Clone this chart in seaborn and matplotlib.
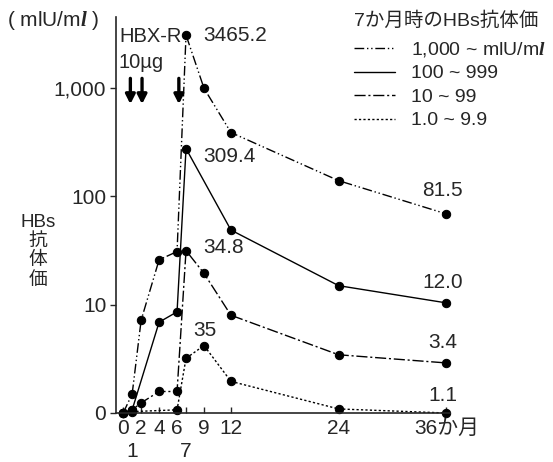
import numpy as np
import pandas as pd
import seaborn as sns
import matplotlib
matplotlib.use('Agg')
import matplotlib.pyplot as plt
from matplotlib.lines import Line2D

# data (months, HBs antibody titre)
months_a = [0, 1, 2, 4, 6, 7, 9, 12, 24, 36]
titre_a = [1.0, 1.5, 7.2, 26, 31, 3100, 1000, 390, 140, 69]
months_b = [0, 1, 4, 6, 7, 12, 24, 36]
titre_b = [1.0, 1.07, 6.9, 8.6, 277, 49, 15, 10.4]
months_c = [0, 1, 2, 4, 6, 7, 9, 12, 24, 36]
titre_c = [1.0, 1.07, 1.24, 1.58, 1.58, 31.6, 19.5, 8.0, 3.45, 2.9]
months_d = [0, 1, 6, 7, 9, 12, 24, 36]
titre_d = [1.0, 1.03, 1.07, 3.2, 4.2, 1.96, 1.09, 1.0]

legend_labels = ['1,000 ~ mlU/m$\\mathbfit{l}$', '100 ~ 999', '10 ~ 99', '1.0 ~ 9.9']
peak_labels = ['3465.2', '309.4', '34.8', '35']
end_labels = ['81.5', '12.0', '3.4', '1.1']
arrow_months = [0.8, 2.1, 6.2]
ylabel_lines = ['HBs', '抗', '体', '価']

xticks = [0, 2, 4, 6, 9, 12, 24, 36]
xticklabels = ['0', '2', '4', '6', '9', '12', '24', '36か月']
xticks_low = [1, 7]
xticklabels_low = ['1', '7']
yticks = [1, 10, 100, 1000]
yticklabels = ['0', '10', '100', '1,000']

sns.set_style('ticks')
plt.rcParams['font.family'] = ['Liberation Sans', 'Noto Sans CJK JP', 'DejaVu Sans']
plt.rcParams['mathtext.fontset'] = 'custom'
plt.rcParams['mathtext.bfit'] = 'Liberation Serif:italic:bold'
plt.rcParams['mathtext.rm'] = 'Liberation Sans'

fig = plt.figure(figsize=(5.53, 4.62), dpi=100)
ax = fig.add_axes([116 / 553, 49 / 462, 334 / 553, 396 / 462])

styles = [(0, (7, 2, 1, 2, 1, 2)), '-', (0, (8, 2, 1.5, 2)), (0, (1.6, 1.6))]
series = [(months_a, titre_a), (months_b, titre_b), (months_c, titre_c), (months_d, titre_d)]
for (mx, ty), ls in zip(series, styles):
    df = pd.DataFrame({'month': mx, 'titre': ty})
    sns.lineplot(data=df, x='month', y='titre', ax=ax, color='black', linewidth=1.0,
                 linestyle=ls, marker='o', markersize=6, markeredgecolor='black',
                 clip_on=False, errorbar=None)

ax.set_yscale('log')
ax.set_ylim(1, 4550)
ax.set_xlim(-0.8, 36.4)
ax.minorticks_off()
ax.set_yticks(yticks)
ax.set_yticklabels(yticklabels, fontsize=15)
ax.set_xticks(xticks)
ax.set_xticklabels(xticklabels, fontsize=15)
ax.set_xticks(xticks_low, minor=True)
ax.set_xticklabels(xticklabels_low, minor=True, fontsize=15)
ax.tick_params(axis='x', which='both', direction='in', length=4, width=1)
ax.tick_params(axis='x', which='major', pad=4)
ax.tick_params(axis='x', which='minor', pad=21)
ax.tick_params(axis='y', direction='out', length=4, width=1, pad=3)
ax.set_xlabel('')
ax.set_ylabel('')
for s in ['top', 'right']:
    ax.spines[s].set_visible(False)
for s in ['left', 'bottom']:
    ax.spines[s].set_linewidth(1.2)

# value annotations (peaks)
peak_y = [titre_a[5], titre_b[4], titre_c[5], titre_d[4]]
peak_x = [8.9, 8.9, 8.9, 7.8]
peak_dy = [0, -6, 2, 11]
for yv, xv, dy, lab in zip(peak_y, peak_x, peak_dy, peak_labels):
    ax.annotate(lab, (xv, yv), xytext=(0, dy), textcoords='offset points',
                fontsize=15, va='center', ha='left')
# value annotations (36 months)
end_y = [titre_a[-1], titre_b[-1], titre_c[-1], titre_d[-1]]
end_dy = [17, 14.5, 15, 12.5]
for yv, dy, lab in zip(end_y, end_dy, end_labels):
    ax.annotate(lab, (35.6, yv), xytext=(0, dy), textcoords='offset points',
                fontsize=15, va='center', ha='center')

# vaccination arrows
for xa in arrow_months:
    ax.annotate('', xy=(xa, 0.78), xytext=(xa, 0.845), xycoords=('data', 'axes fraction'),
                textcoords=('data', 'axes fraction'),
                arrowprops=dict(arrowstyle='-|>,head_length=0.55,head_width=0.28',
                                color='black', lw=2.4, shrinkA=0, shrinkB=0))
fig.text(119 / 553, 1 - 36 / 462, 'HBX-R', fontsize=14.5, va='center', ha='left')
fig.text(119 / 553, 1 - 62 / 462, '10µg', fontsize=14.5, va='center', ha='left')

fig.text(7 / 553, 1 - 20 / 462, '( mlU/m$\\mathbfit{l}$ )', fontsize=15, va='center', ha='left')
for yy, txt in zip([222, 241, 260, 280], ylabel_lines):
    fig.text(38 / 553, 1 - yy / 462, txt, fontsize=13.5, va='center', ha='center')

handles = [Line2D([], [], color='black', lw=1.0, linestyle=ls) for ls in styles]
leg = fig.legend(handles, legend_labels, title='7か月時のHBs抗体価', loc='upper left',
                 bbox_to_anchor=(350 / 553, 1 - 8 / 462), frameon=False, fontsize=14,
                 title_fontsize=14, handlelength=2.1, handletextpad=0.85, labelspacing=0.3,
                 borderaxespad=0, borderpad=0.2)
leg._legend_box.align = 'left'
leg._legend_box.sep = 7

fig.savefig('out.png', dpi=100)
